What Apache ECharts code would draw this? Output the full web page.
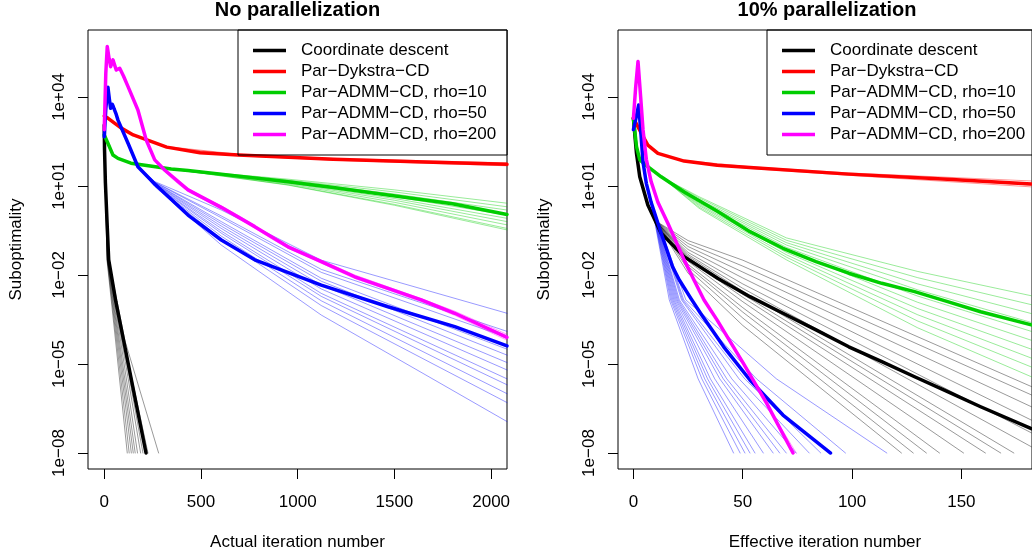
<!DOCTYPE html>
<html>
<head>
<meta charset="utf-8">
<script src="https://cdn.jsdelivr.net/npm/echarts@6/dist/echarts.min.js"></script>
<style>
html,body{margin:0;padding:0;background:#fff;}
#chart{width:1032px;height:557px;}
</style>
</head>
<body>
<div id="chart"></div>
<script>
// All y values are log10(suboptimality); x values are iteration numbers.
const panelTitles = ['No parallelization', '10% parallelization'];
const xAxisNames = ['Actual iteration number', 'Effective iteration number'];
const yAxisName = 'Suboptimality';
const methodNames = ['Coordinate descent', 'Par\u2212Dykstra\u2212CD', 'Par\u2212ADMM\u2212CD, rho=10', 'Par\u2212ADMM\u2212CD, rho=50', 'Par\u2212ADMM\u2212CD, rho=200'];
const xTicksLeft = [0, 500, 1000, 1500, 2000];
const xTicksRight = [0, 50, 100, 150];
const yTicksLog10 = [-8, -5, -2, 1, 4];

// ---------- Left panel: no parallelization ----------
const leftCD = [[0,3.06],[1.5,2.21],[6,1.10],[14,-0.15],[23,-1.49],[60,-2.9],[100,-4.2],[150,-5.85],[216,-8.0]];
const leftCDRuns = [
  [[0,3.06],[1.5,2.21],[6,1.1],[14,-1.49],[58,-4.19],[119,-8]],
  [[0,3.06],[1.5,2.21],[6,1.1],[15,-1.49],[63,-4.19],[129,-8]],
  [[0,3.06],[1.5,2.21],[6,1.1],[16,-1.49],[68,-4.19],[140,-8]],
  [[0,3.06],[1.5,2.21],[6,1.1],[17,-1.49],[73,-4.19],[150,-8]],
  [[0,3.06],[1.5,2.21],[6,1.1],[18,-1.49],[78,-4.19],[160,-8]],
  [[0,3.06],[1.5,2.21],[6,1.1],[19,-1.49],[84,-4.19],[172,-8]],
  [[0,3.06],[1.5,2.21],[6,1.1],[20,-1.49],[90,-4.19],[188,-8]],
  [[0,3.06],[1.5,2.21],[6,1.1],[21,-1.49],[95,-4.19],[200,-8]],
  [[0,3.06],[1.5,2.21],[6,1.1],[22,-1.49],[100,-4.19],[226,-8]],
  [[0,3.06],[1.5,2.21],[6,1.1],[23,-1.49],[106,-4.19],[281,-8]]
];
const leftDyk = [[0,3.36],[20,3.28],[88,2.95],[150,2.72],[323,2.31],[495,2.12],[693,2.045],[1183,1.90],[1700,1.80],[2082,1.73]];
const leftDykRuns = [
  [[0,3.36],[20,3.28],[88,2.96],[150,2.73],[323,2.33],[693,2.07],[1183,1.93],[2082,1.78]],
  [[0,3.36],[20,3.28],[88,2.94],[150,2.71],[323,2.29],[693,2.02],[1183,1.87],[2082,1.68]],
  [[0,3.36],[20,3.28],[88,2.95],[150,2.72],[323,2.31],[693,2.05],[1183,1.91],[2082,1.75]]
];
const leftG10 = [[0,2.72],[19,2.44],[45,2.045],[71,1.93],[138,1.77],[346,1.57],[433,1.52],[605,1.40],[950,1.14],[1184,0.95],[1467,0.70],[1800,0.40],[2082,0.04]];
const leftG10Runs = [
  [[0,2.72],[19,2.44],[45,2.05],[71,1.93],[138,1.77],[346,1.57],[950,1.23],[1500,0.87],[2082,0.42]],
  [[0,2.72],[19,2.44],[45,2.05],[71,1.93],[138,1.77],[346,1.57],[950,1.20],[1500,0.80],[2082,0.30]],
  [[0,2.72],[19,2.44],[45,2.05],[71,1.93],[138,1.77],[346,1.57],[950,1.18],[1500,0.73],[2082,0.19]],
  [[0,2.72],[19,2.44],[45,2.05],[71,1.93],[138,1.77],[346,1.57],[950,1.14],[1500,0.64],[2082,0.02]],
  [[0,2.72],[19,2.44],[45,2.05],[71,1.93],[138,1.77],[346,1.57],[950,1.12],[1500,0.58],[2082,-0.09]],
  [[0,2.72],[19,2.44],[45,2.05],[71,1.93],[138,1.77],[346,1.57],[950,1.10],[1500,0.52],[2082,-0.20]],
  [[0,2.72],[19,2.44],[45,2.05],[71,1.93],[138,1.77],[346,1.57],[950,1.07],[1500,0.45],[2082,-0.31]],
  [[0,2.72],[19,2.44],[45,2.05],[71,1.93],[138,1.77],[346,1.57],[950,1.04],[1500,0.38],[2082,-0.43]],
  [[0,2.72],[19,2.44],[45,2.05],[71,1.93],[138,1.77],[346,1.57],[950,1.03],[1500,0.35],[2082,-0.48]]
];
const leftB50 = [[0,2.66],[8,3.6],[19,4.33],[27,3.9],[33,3.62],[42,3.75],[50,3.70],[60,3.45],[71,3.22],[123,2.44],[174,1.65],[261,1.07],[433,0.02],[605,-0.82],[778,-1.49],[1122,-2.34],[1467,-3.07],[1812,-3.74],[2082,-4.39]];
const leftB50Runs = [
  [[0,2.66],[8,3.6],[19,4.3],[33,3.62],[50,3.7],[71,3.22],[123,2.44],[174,1.65],[261,1.15],[605,0.19],[1122,-1.50],[2082,-3.29]],
  [[0,2.66],[8,3.6],[19,4.3],[33,3.62],[50,3.7],[71,3.22],[123,2.44],[174,1.65],[261,1.13],[605,-0.01],[1122,-1.81],[2082,-3.90]],
  [[0,2.66],[8,3.6],[19,4.3],[33,3.62],[50,3.7],[71,3.22],[123,2.44],[174,1.65],[261,1.12],[605,-0.07],[1122,-1.91],[2082,-4.10]],
  [[0,2.66],[8,3.6],[19,4.3],[33,3.62],[50,3.7],[71,3.22],[123,2.44],[174,1.65],[261,1.10],[605,-0.20],[1122,-2.11],[2082,-4.50]],
  [[0,2.66],[8,3.6],[19,4.3],[33,3.62],[50,3.7],[71,3.22],[123,2.44],[174,1.65],[261,1.09],[605,-0.27],[1122,-2.21],[2082,-4.70]],
  [[0,2.66],[8,3.6],[19,4.3],[33,3.62],[50,3.7],[71,3.22],[123,2.44],[174,1.65],[261,1.07],[605,-0.35],[1122,-2.34],[2082,-4.95]],
  [[0,2.66],[8,3.6],[19,4.3],[33,3.62],[50,3.7],[71,3.22],[123,2.44],[174,1.65],[261,1.06],[605,-0.43],[1122,-2.47],[2082,-5.20]],
  [[0,2.66],[8,3.6],[19,4.3],[33,3.62],[50,3.7],[71,3.22],[123,2.44],[174,1.65],[261,1.04],[605,-0.52],[1122,-2.62],[2082,-5.50]],
  [[0,2.66],[8,3.6],[19,4.3],[33,3.62],[50,3.7],[71,3.22],[123,2.44],[174,1.65],[261,1.03],[605,-0.59],[1122,-2.72],[2082,-5.70]],
  [[0,2.66],[8,3.6],[19,4.3],[33,3.62],[50,3.7],[71,3.22],[123,2.44],[174,1.65],[261,1.01],[605,-0.69],[1122,-2.87],[2082,-6.00]],
  [[0,2.66],[8,3.6],[19,4.3],[33,3.62],[50,3.7],[71,3.22],[123,2.44],[174,1.65],[261,1.00],[605,-0.78],[1122,-3.03],[2082,-6.30]],
  [[0,2.66],[8,3.6],[19,4.3],[33,3.62],[50,3.7],[71,3.22],[123,2.44],[174,1.65],[261,0.98],[605,-0.99],[1122,-3.35],[2082,-6.94]]
];
const leftM200 = [[0,2.9],[8,4.8],[15.5,5.70],[25,5.3],[33,5.02],[45,5.25],[62,4.91],[80,4.97],[100,4.7],[123,4.35],[174,3.56],[217,2.55],[261,1.88],[312,1.54],[433,0.87],[605,0.28],[778,-0.37],[950,-1.05],[1122,-1.55],[1295,-2.06],[1467,-2.45],[1639,-2.84],[1812,-3.29],[2082,-4.10]];
const leftM200Runs = [
  [[0,2.9],[8,4.9],[15.5,5.75],[25,5.35],[33,5.05],[45,5.3],[62,4.95],[80,5.0],[123,4.38],[174,3.6],[217,2.6],[261,1.92],[312,1.6],[380,1.15],[433,0.92],[520,0.6],[605,0.33],[700,-0.02],[778,-0.33],[870,-0.72],[950,-1.0],[1050,-1.3],[1122,-1.5],[1295,-2.0],[1467,-2.4],[1639,-2.8],[1812,-3.22],[2082,-4.0]],
  [[0,2.9],[8,4.7],[15.5,5.65],[25,5.25],[33,4.98],[45,5.2],[62,4.87],[80,4.93],[123,4.31],[174,3.52],[217,2.5],[261,1.84],[312,1.48],[380,1.08],[433,0.82],[520,0.52],[605,0.22],[700,-0.1],[778,-0.42],[870,-0.8],[950,-1.1],[1050,-1.38],[1122,-1.6],[1295,-2.12],[1467,-2.5],[1639,-2.9],[1812,-3.36],[2082,-4.2]],
  [[0,2.9],[8,4.8],[15.5,5.7],[25,5.32],[33,5.0],[45,5.27],[62,4.9],[80,4.95],[123,4.33],[174,3.58],[217,2.57],[261,1.9],[312,1.5],[380,1.16],[433,0.85],[520,0.58],[605,0.26],[700,-0.04],[778,-0.4],[870,-0.7],[950,-1.08],[1050,-1.31],[1122,-1.58],[1295,-2.03],[1467,-2.47],[1639,-2.82],[1812,-3.3],[2082,-4.05]],
  [[0,2.9],[8,4.8],[15.5,5.68],[25,5.28],[33,5.03],[45,5.23],[62,4.92],[80,4.96],[123,4.36],[174,3.54],[217,2.53],[261,1.86],[312,1.56],[380,1.1],[433,0.89],[520,0.54],[605,0.3],[700,-0.08],[778,-0.35],[870,-0.76],[950,-1.03],[1050,-1.36],[1122,-1.53],[1295,-2.09],[1467,-2.43],[1639,-2.87],[1812,-3.27],[2082,-4.15]]
];

// ---------- Right panel: 10% parallelization ----------
const rightCD = [[0,3.28],[1.4,2.10],[2.9,1.31],[6.6,0.36],[12.7,-0.59],[23.2,-1.38],[38.7,-2.12],[53.3,-2.73],[68.4,-3.29],[83.5,-3.85],[98.5,-4.42],[113.6,-4.92],[128.6,-5.43],[143.7,-5.93],[158.8,-6.44],[182,-7.18]];
const rightCDRuns = [
  [[0,3.28],[1.4,2.1],[2.9,1.31],[6.6,0.36],[10,-0.17],[25,-0.84],[50,-1.5],[182,-5.76]],
  [[0,3.28],[1.4,2.1],[2.9,1.31],[6.6,0.36],[10,-0.17],[25,-0.94],[50,-1.7],[182,-6.04]],
  [[0,3.28],[1.4,2.1],[2.9,1.31],[6.6,0.36],[10,-0.17],[25,-1.04],[50,-1.9],[182,-6.44]],
  [[0,3.28],[1.4,2.1],[2.9,1.31],[6.6,0.36],[10,-0.17],[25,-1.14],[50,-2.1],[182,-6.89]],
  [[0,3.28],[1.4,2.1],[2.9,1.31],[6.6,0.36],[10,-0.17],[25,-1.24],[50,-2.3],[182,-7.32]],
  [[0,3.28],[1.4,2.1],[2.9,1.31],[6.6,0.36],[10,-0.17],[25,-1.31],[50,-2.45],[182,-7.79]],
  [[0,3.28],[1.4,2.1],[2.9,1.31],[6.6,0.36],[10,-0.17],[25,-1.36],[50,-2.55],[174,-8]],
  [[0,3.28],[1.4,2.1],[2.9,1.31],[6.6,0.36],[10,-0.17],[25,-1.41],[50,-2.65],[168,-8]],
  [[0,3.28],[1.4,2.1],[2.9,1.31],[6.6,0.36],[10,-0.17],[25,-1.46],[50,-2.75],[161,-8]],
  [[0,3.28],[1.4,2.1],[2.9,1.31],[6.6,0.36],[10,-0.17],[25,-1.54],[50,-2.9],[151,-8]],
  [[0,3.28],[1.4,2.1],[2.9,1.31],[6.6,0.36],[10,-0.17],[25,-1.64],[50,-3.1],[140,-8]],
  [[0,3.28],[1.4,2.1],[2.9,1.31],[6.6,0.36],[10,-0.17],[25,-1.71],[50,-3.25],[134,-8]],
  [[0,3.28],[1.4,2.1],[2.9,1.31],[6.6,0.36],[10,-0.17],[25,-1.81],[50,-3.45],[128,-8]],
  [[0,3.28],[1.4,2.1],[2.9,1.31],[6.6,0.36],[10,-0.17],[25,-1.94],[50,-3.7],[122.6,-8]]
];
const rightDyk = [[0,3.29],[3.6,2.78],[6.6,2.38],[11.2,2.10],[23.2,1.84],[38.3,1.70],[53.3,1.62],[98.5,1.40],[143.7,1.23],[182,1.07]];
const rightDykRuns = [
  [[0,3.29],[3.6,2.78],[6.6,2.38],[11.2,2.11],[23.2,1.86],[53.3,1.65],[98.5,1.44],[182,1.17]],
  [[0,3.29],[3.6,2.78],[6.6,2.38],[11.2,2.09],[23.2,1.82],[53.3,1.59],[98.5,1.36],[182,0.97]],
  [[0,3.29],[3.6,2.78],[6.6,2.38],[11.2,2.10],[23.2,1.84],[53.3,1.61],[98.5,1.41],[182,1.03]]
];
const rightG10 = [[0,3.28],[1.4,2.33],[2.9,1.88],[6.6,1.65],[12.7,1.31],[23.2,0.80],[38.4,0.15],[53.3,-0.54],[68.4,-1.10],[83.5,-1.55],[98.5,-1.94],[113.6,-2.28],[128.6,-2.56],[143.7,-2.90],[158.8,-3.24],[182,-3.68]];
const rightG10Runs = [
  [[0,3.28],[1.4,2.33],[2.9,1.88],[6.6,1.65],[12.7,1.31],[30,0.64],[70,-0.75],[130,-1.88],[182,-2.70]],
  [[0,3.28],[1.4,2.33],[2.9,1.88],[6.6,1.65],[12.7,1.31],[30,0.60],[70,-0.83],[130,-2.09],[182,-3.00]],
  [[0,3.28],[1.4,2.33],[2.9,1.88],[6.6,1.65],[12.7,1.31],[30,0.55],[70,-0.91],[130,-2.30],[182,-3.30]],
  [[0,3.28],[1.4,2.33],[2.9,1.88],[6.6,1.65],[12.7,1.31],[30,0.51],[70,-0.99],[130,-2.50],[182,-3.60]],
  [[0,3.28],[1.4,2.33],[2.9,1.88],[6.6,1.65],[12.7,1.31],[30,0.47],[70,-1.07],[130,-2.71],[182,-3.90]],
  [[0,3.28],[1.4,2.33],[2.9,1.88],[6.6,1.65],[12.7,1.31],[30,0.42],[70,-1.15],[130,-2.92],[182,-4.20]],
  [[0,3.28],[1.4,2.33],[2.9,1.88],[6.6,1.65],[12.7,1.31],[30,0.38],[70,-1.24],[130,-3.13],[182,-4.50]],
  [[0,3.28],[1.4,2.33],[2.9,1.88],[6.6,1.65],[12.7,1.31],[30,0.34],[70,-1.32],[130,-3.34],[182,-4.80]],
  [[0,3.28],[1.4,2.33],[2.9,1.88],[6.6,1.65],[12.7,1.31],[30,0.29],[70,-1.40],[130,-3.55],[182,-5.10]],
  [[0,3.28],[1.4,2.33],[2.9,1.88],[6.6,1.65],[12.7,1.31],[30,0.25],[70,-1.49],[130,-3.78],[182,-5.43]]
];
const rightB50 = [[0,2.9],[1.2,3.3],[2.4,3.73],[3.3,2.89],[4.4,1.8],[5.9,1.09],[8.1,0.45],[12.7,-0.59],[17.9,-1.72],[21,-2.17],[26.2,-2.78],[30.7,-3.29],[41.3,-4.42],[53.3,-5.54],[68.4,-6.72],[90.2,-8.0]];
const rightB50Runs = [
  [[0,2.9],[1.2,3.3],[2.4,3.73],[3.3,2.89],[4.4,1.8],[5.9,1.09],[8.1,0.45],[16.4,-2.84],[29.6,-5.5],[45.8,-8]],
  [[0,2.9],[1.2,3.3],[2.4,3.73],[3.3,2.89],[4.4,1.8],[5.9,1.09],[8.1,0.45],[17.0,-2.84],[31.3,-5.5],[48.8,-8]],
  [[0,2.9],[1.2,3.3],[2.4,3.73],[3.3,2.89],[4.4,1.8],[5.9,1.09],[8.1,0.45],[17.5,-2.84],[32.6,-5.5],[51.0,-8]],
  [[0,2.9],[1.2,3.3],[2.4,3.73],[3.3,2.89],[4.4,1.8],[5.9,1.09],[8.1,0.45],[18.0,-2.84],[33.9,-5.5],[53.3,-8]],
  [[0,2.9],[1.2,3.3],[2.4,3.73],[3.3,2.89],[4.4,1.8],[5.9,1.09],[8.1,0.45],[18.5,-2.84],[35.2,-5.5],[55.6,-8]],
  [[0,2.9],[1.2,3.3],[2.4,3.73],[3.3,2.89],[4.4,1.8],[5.9,1.09],[8.1,0.45],[19.0,-2.84],[37.2,-5.5],[59.4,-8]],
  [[0,2.9],[1.2,3.3],[2.4,3.73],[3.3,2.89],[4.4,1.8],[5.9,1.09],[8.1,0.45],[19.5,-2.84],[39.5,-5.5],[63.9,-8]],
  [[0,2.9],[1.2,3.3],[2.4,3.73],[3.3,2.89],[4.4,1.8],[5.9,1.09],[8.1,0.45],[20.0,-2.84],[41.1,-5.5],[66.9,-8]],
  [[0,2.9],[1.2,3.3],[2.4,3.73],[3.3,2.89],[4.4,1.8],[5.9,1.09],[8.1,0.45],[20.5,-2.84],[42.7,-5.5],[69.9,-8]],
  [[0,2.9],[1.2,3.3],[2.4,3.73],[3.3,2.89],[4.4,1.8],[5.9,1.09],[8.1,0.45],[21.0,-2.84],[45.0,-5.5],[74.4,-8]],
  [[0,2.9],[1.2,3.3],[2.4,3.73],[3.3,2.89],[4.4,1.8],[5.9,1.09],[8.1,0.45],[22.0,-2.84],[48.3,-5.5],[80.4,-8]],
  [[0,2.9],[1.2,3.3],[2.4,3.73],[3.3,2.89],[4.4,1.8],[5.9,1.09],[8.1,0.45],[22.5,-2.84],[50.9,-5.5],[85.7,-8]],
  [[0,2.9],[1.2,3.3],[2.4,3.73],[3.3,2.89],[4.4,1.8],[5.9,1.09],[8.1,0.45],[23.0,-2.84],[56.3,-5.5],[97.0,-8]],
  [[0,2.9],[1.2,3.3],[2.4,3.73],[3.3,2.89],[4.4,1.8],[5.9,1.09],[8.1,0.45],[24.0,-2.84],[65.4,-5.5],[115.9,-8]]
];
const rightM200 = [[0,3.28],[1,4.3],[2.1,5.2],[3.3,4.01],[4.4,2.89],[5.9,1.9],[8.1,1.15],[11.2,0.45],[15.7,-0.25],[23.2,-1.49],[27.7,-2.17],[32.3,-2.84],[38.3,-3.52],[50.3,-4.98],[60.9,-6.32],[73,-8]];
const rightM200Runs = [
  [[0,3.28],[1,4.3],[2.1,5.25],[3.3,4.05],[4.4,2.92],[5.9,1.92],[8.1,1.17],[11.2,0.47],[15.7,-0.22],[23.2,-1.45],[32.3,-2.8],[38.3,-3.48],[50.3,-4.93],[60.9,-6.25],[72.6,-8]],
  [[0,3.28],[1,4.3],[2.1,5.15],[3.3,3.98],[4.4,2.86],[5.9,1.88],[8.1,1.13],[11.2,0.43],[15.7,-0.28],[23.2,-1.53],[32.3,-2.88],[38.3,-3.57],[50.3,-5.03],[60.9,-6.36],[74.5,-8]],
  [[0,3.28],[1,4.3],[2.1,5.2],[3.3,4.0],[4.4,2.9],[5.9,1.9],[8.1,1.15],[11.2,0.45],[15.7,-0.25],[23.2,-1.5],[32.3,-2.85],[38.3,-3.5],[50.3,-4.96],[60.9,-6.3],[73.5,-8]]
];

// ---------- styling ----------
const FONT = '"Liberation Sans", Arial, Helvetica, sans-serif';
const thickColors = ['#000000', '#ff0000', '#00cd00', '#0000ff', '#ff00ff'];
const thinColors = ['rgba(0,0,0,0.4)', 'rgba(255,0,0,0.4)', 'rgba(0,205,0,0.4)', 'rgba(0,0,255,0.4)', 'rgba(255,0,255,0.4)'];

const panels = [
  { means: [leftCD, leftDyk, leftG10, leftB50, leftM200], runs: [leftCDRuns, leftDykRuns, leftG10Runs, leftB50Runs, leftM200Runs] },
  { means: [rightCD, rightDyk, rightG10, rightB50, rightM200], runs: [rightCDRuns, rightDykRuns, rightG10Runs, rightB50Runs, rightM200Runs] }
];

function mkLine(data, gi, color, width, name, z) {
  const s = {
    type: 'line', xAxisIndex: gi, yAxisIndex: gi, data: data,
    showSymbol: false, symbol: 'none', silent: true, animation: false, z: z,
    color: color, clip: true,
    lineStyle: { color: color, width: width, cap: 'round', join: 'round' },
    emphasis: { disabled: true }
  };
  if (name) s.name = name;
  return s;
}

const series = [];
panels.forEach((p, gi) => {
  p.runs.forEach((runs, mi) => {
    runs.forEach(r => series.push(mkLine(r, gi, thinColors[mi], 1, null, 2)));
  });
});
panels.forEach((p, gi) => {
  p.means.forEach((m, mi) => series.push(mkLine(m, gi, thickColors[mi], 3.5, methodNames[mi], 3)));
});

function yFmt(v) {
  const e = Math.round(v);
  const a = Math.abs(e);
  return '1e' + (e < 0 ? '\u2212' : '+') + (a < 10 ? '0' : '') + a;
}

const Y_MIN = -8.539, Y_MAX = 6.258;
function mkX(gi, min, max, ticks, name) {
  return {
    type: 'value', gridIndex: gi, min: min, max: max,
    axisLine: { show: false, onZero: false }, splitLine: { show: false },
    axisTick: { show: true, customValues: ticks, length: 10, lineStyle: { color: '#000', width: 1 } },
    axisLabel: { customValues: ticks, margin: 25, fontSize: 17, color: '#000', fontFamily: FONT, formatter: v => String(v) },
    name: name, nameLocation: 'middle', nameGap: 65,
    nameTextStyle: { fontSize: 17, color: '#000', fontFamily: FONT }
  };
}
function mkY(gi, gap) {
  return {
    type: 'value', gridIndex: gi, min: Y_MIN, max: Y_MAX,
    axisLine: { show: false, onZero: false }, splitLine: { show: false },
    axisTick: { show: true, customValues: yTicksLog10, length: 10, lineStyle: { color: '#000', width: 1 } },
    axisLabel: { customValues: yTicksLog10, rotate: 90, margin: 20, fontSize: 17, color: '#000', fontFamily: FONT, formatter: yFmt },
    name: yAxisName, nameLocation: 'middle', nameGap: gap, nameRotate: 90,
    nameTextStyle: { fontSize: 17, color: '#000', fontFamily: FONT }
  };
}
function mkLegend(left) {
  return {
    show: true, orient: 'vertical', left: left, top: 30, align: 'left',
    padding: [12, 11, 12, 15], itemGap: 4, itemWidth: 33, itemHeight: 3.5,
    borderColor: '#000', borderWidth: 1, backgroundColor: 'transparent',
    selectedMode: false,
    textStyle: { fontSize: 17, color: '#000', fontFamily: FONT, padding: [0, 0, 0, 10] },
    data: methodNames.map(n => ({ name: n, icon: 'rect' }))
  };
}

const option = {
  animation: false,
  backgroundColor: '#ffffff',
  textStyle: { fontFamily: FONT },
  grid: [
    { left: 88, top: 30, width: 419, height: 439, show: true, borderColor: '#000', borderWidth: 1, backgroundColor: 'transparent' },
    { left: 618, top: 30, width: 419, height: 439, show: true, borderColor: '#000', borderWidth: 1, backgroundColor: 'transparent' }
  ],
  xAxis: [
    mkX(0, -84, 2082, xTicksLeft, xAxisNames[0]),
    mkX(1, -7.05, 182.3, xTicksRight, xAxisNames[1])
  ],
  yAxis: [mkY(0, 63), mkY(1, 65)],
  legend: [mkLegend(238), mkLegend(767)],
  graphic: [
    { type: 'text', x: 297.5, y: 10, style: { text: panelTitles[0], fontSize: 20, fontWeight: 'bold', fontFamily: FONT, fill: '#000', align: 'center', verticalAlign: 'middle' } },
    { type: 'text', x: 827, y: 10, style: { text: panelTitles[1], fontSize: 20, fontWeight: 'bold', fontFamily: FONT, fill: '#000', align: 'center', verticalAlign: 'middle' } }
  ],
  series: series
};

const chart = echarts.init(document.getElementById('chart'), null, { renderer: 'canvas' });
chart.setOption(option);
</script>
</body>
</html>
